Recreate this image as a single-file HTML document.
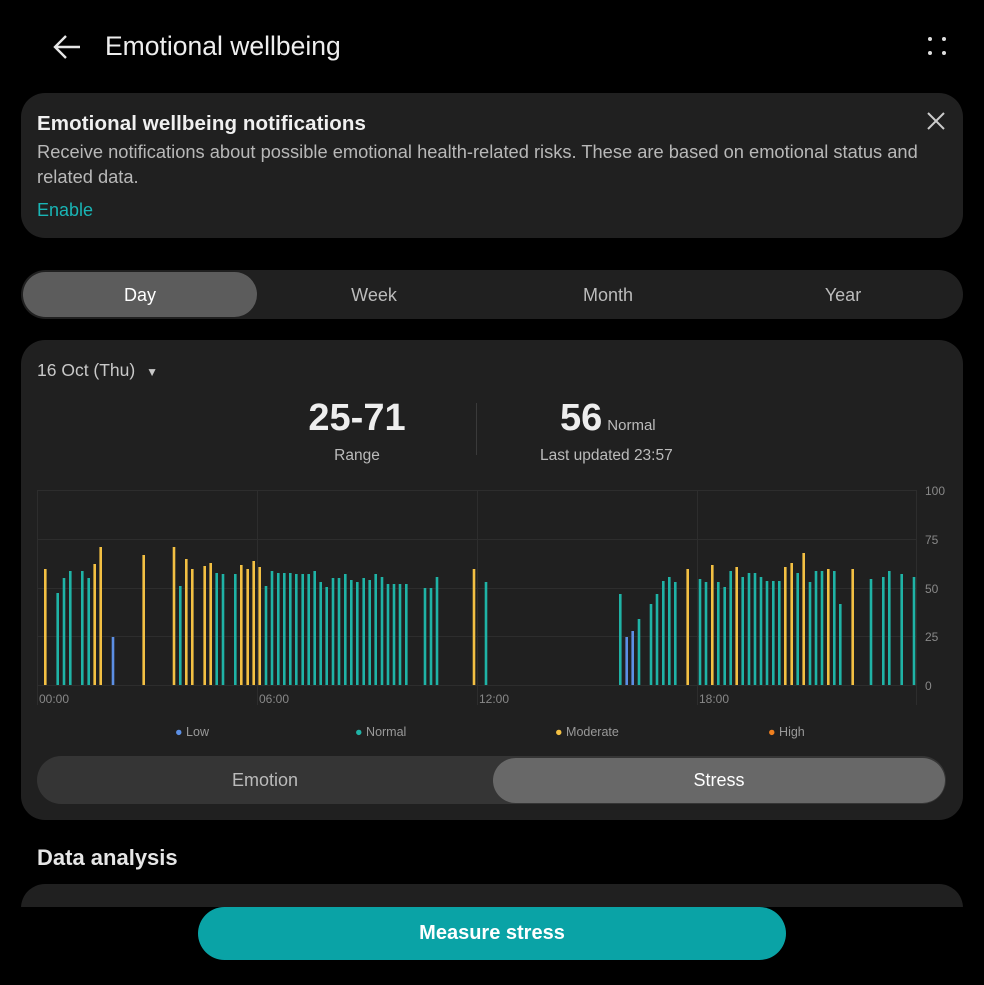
<!DOCTYPE html>
<html><head><meta charset="utf-8"><style>
body{margin:0;width:984px;height:985px;background:#000;font-family:"Liberation Sans",sans-serif;color:#e6e6e6;position:relative;overflow:hidden}
.a{position:absolute}
.card{background:#202020;border-radius:24px}
</style></head><body>
<svg class="a" style="left:52px;top:32px" width="32" height="30"><path d="M28 15H4M14 4L3 15l11 11" stroke="#e6e6e6" stroke-width="2.4" fill="none"/></svg>
<div class="a" style="left:105px;top:31px;font-size:26.5px;color:#eee">Emotional wellbeing</div>
<div class="a" style="left:928px;top:37px;width:4px;height:4px;background:#ddd;border-radius:50%;box-shadow:14px 0 #ddd,0 14px #ddd,14px 14px #ddd"></div>

<div class="a card" style="left:21px;top:93px;width:942px;height:145px"></div>
<div class="a" style="left:37px;top:112px;font-size:20.5px;font-weight:bold;color:#f0f0f0;letter-spacing:0.1px">Emotional wellbeing notifications</div>
<div class="a" style="left:37px;top:139px;width:910px;font-size:18.3px;line-height:25px;color:#b8b8b8">Receive notifications about possible emotional health-related risks. These are based on emotional status and related data.</div>
<div class="a" style="left:37px;top:200px;font-size:18px;color:#19b5b5">Enable</div>
<svg class="a" style="left:926px;top:111px" width="20" height="20"><path d="M2 2L18 18M18 2L2 18" stroke="#ccc" stroke-width="2"/></svg>

<div class="a" style="left:21px;top:270px;width:942px;height:49px;background:#202020;border-radius:25px"></div>
<div class="a" style="left:23px;top:272px;width:234px;height:45px;background:#5c5c5c;border-radius:23px"></div>
<div class="a" style="left:23px;top:285px;width:234px;text-align:center;font-size:18px;color:#fff">Day</div>
<div class="a" style="left:257px;top:285px;width:234px;text-align:center;font-size:18px;color:#bbb">Week</div>
<div class="a" style="left:491px;top:285px;width:234px;text-align:center;font-size:18px;color:#bbb">Month</div>
<div class="a" style="left:726px;top:285px;width:234px;text-align:center;font-size:18px;color:#bbb">Year</div>

<div class="a card" style="left:21px;top:340px;width:942px;height:480px"></div>
<div class="a" style="left:37px;top:360px;font-size:17.5px;color:#c8c8c8">16 Oct (Thu) <span style="font-size:12px;margin-left:6px">▼</span></div>
<div class="a" style="left:257px;top:397px;width:200px;text-align:center;font-size:38px;font-weight:bold;color:#eee">25-71</div>
<div class="a" style="left:257px;top:447px;width:200px;text-align:center;font-size:15.5px;color:#bbb">Range</div>
<div class="a" style="left:476px;top:403px;width:1px;height:52px;background:#3a3a3a"></div>
<div class="a" style="left:560px;top:397px;font-size:38px;font-weight:bold;color:#eee">56<span style="font-size:15px;font-weight:normal;color:#bbb;margin-left:5px">Normal</span></div>
<div class="a" style="left:540px;top:447px;font-size:15.5px;color:#bbb">Last updated 23:57</div>

<svg class="a" style="left:0;top:480px" width="984" height="240">
<g stroke="#2d2d2d" stroke-width="1">
<line x1="37" y1="10.5" x2="916" y2="10.5"/><line x1="37" y1="59.5" x2="916" y2="59.5"/><line x1="37" y1="108.5" x2="916" y2="108.5"/><line x1="37" y1="156.5" x2="916" y2="156.5"/><line x1="37" y1="205.5" x2="916" y2="205.5"/>
<line x1="37.5" y1="10" x2="37.5" y2="225"/><line x1="257.5" y1="10" x2="257.5" y2="225"/><line x1="477.5" y1="10" x2="477.5" y2="225"/><line x1="697.5" y1="10" x2="697.5" y2="225"/><line x1="916.5" y1="10" x2="916.5" y2="225"/>
</g>
<g font-size="12" fill="#888" font-family="Liberation Sans">
<text x="925" y="15">100</text><text x="925" y="64">75</text><text x="925" y="113">50</text><text x="925" y="161">25</text><text x="925" y="210">0</text>
<text x="39" y="223">00:00</text><text x="259" y="223">06:00</text><text x="479" y="223">12:00</text><text x="699" y="223">18:00</text>
</g>
<g stroke-width="2.6" id="bars"></g>
</svg>
<script>
var Y="#f3c043",N="#1fb3a6",L="#5c8fe4";
var d=[[45.3,569,Y],[57.7,593,N],[64,578,N],[70.3,571,N],[82.3,571,N],[88.7,578,N],[94.7,564,Y],[100.7,547,Y],[113,637,L],[143.7,555,Y],[174,547,Y],[180.3,586,N],[186.3,559,Y],[192.3,569,Y],[204.7,566,Y],[210.7,563,Y],[216.7,573,N],[223,574,N],[235.3,574,N],[241.3,565,Y],[247.7,569,Y],[253.7,561,Y],[259.7,567,Y],[266,586,N],[272,571,N],[278.3,573,N],[284.3,573,N],[290.3,573,N],[296.3,574,N],[302.7,574,N],[308.7,574,N],[314.7,571,N],[320.7,582,N],[326.7,587,N],[333,578,N],[339,578,N],[345.3,574,N],[351.3,580,N],[357.3,582,N],[363.7,578,N],[369.7,580,N],[375.7,574,N],[382,577,N],[388,584,N],[394,584,N],[400,584,N],[406.3,584,N],[425,588,N],[431,588,N],[437,577,N],[474,569,Y],[486,582,N],[620.3,594,N],[626.7,637,L],[632.7,631,L],[639,619,N],[651,604,N],[657,594,N],[663.3,581,N],[669.3,577,N],[675.3,582,N],[687.7,569,Y],[700,579,N],[706,582,N],[712.3,565,Y],[718.3,582,N],[724.7,587,N],[730.7,571,N],[736.7,567,Y],[742.7,577,N],[749,573,N],[755,573,N],[761,577,N],[767,581,N],[773.3,581,N],[779.3,581,N],[785.3,567,Y],[791.7,563,Y],[797.7,573,N],[803.7,553,Y],[810,582,N],[816,571,N],[822,571,N],[828.3,569,Y],[834.3,571,N],[840.3,604,N],[852.7,569,Y],[871,579,N],[883.3,577,N],[889.3,571,N],[901.7,574,N],[914,577,N]];
var s="";d.forEach(function(b){s+='<line x1="'+b[0]+'" x2="'+b[0]+'" y1="'+(b[1]-480)+'" y2="205" stroke="'+b[2]+'"/>';});
document.getElementById("bars").innerHTML=s;
</script>
<div class="a" style="left:175px;top:725px;font-size:12.5px;color:#999"><span style="color:#5c8fe4">●</span> Low</div>
<div class="a" style="left:355px;top:725px;font-size:12.5px;color:#999"><span style="color:#1fb3a6">●</span> Normal</div>
<div class="a" style="left:555px;top:725px;font-size:12.5px;color:#999"><span style="color:#f3c043">●</span> Moderate</div>
<div class="a" style="left:768px;top:725px;font-size:12.5px;color:#999"><span style="color:#f07f1e">●</span> High</div>

<div class="a" style="left:37px;top:756px;width:909px;height:48px;background:#353535;border-radius:24px"></div>
<div class="a" style="left:493px;top:758px;width:452px;height:45px;background:#686868;border-radius:23px"></div>
<div class="a" style="left:37px;top:770px;width:456px;text-align:center;font-size:18px;color:#bbb">Emotion</div>
<div class="a" style="left:493px;top:770px;width:452px;text-align:center;font-size:18px;color:#fff">Stress</div>

<div class="a" style="left:37px;top:845px;font-size:22px;font-weight:bold;color:#e6e6e6">Data analysis</div>
<div class="a" style="left:21px;top:884px;width:942px;height:60px;background:#202020;border-radius:24px 24px 0 0"></div>
<div class="a" style="left:0;top:907px;width:984px;height:78px;background:#000"></div>
<div class="a" style="left:198px;top:907px;width:588px;height:53px;background:#0aa3a6;border-radius:27px;text-align:center;line-height:53px;font-size:20px;font-weight:bold;color:#fff">Measure stress</div>
</body></html>
